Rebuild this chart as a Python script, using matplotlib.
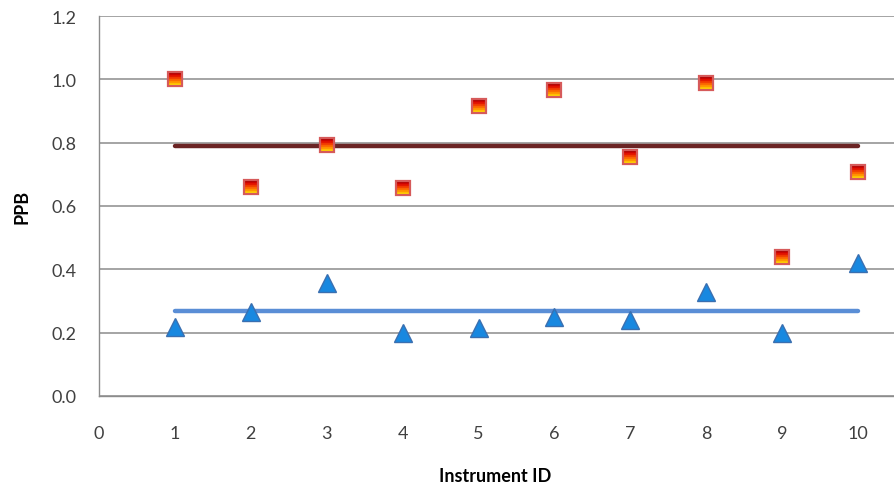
import matplotlib
matplotlib.use("Agg")
import matplotlib.pyplot as plt
from matplotlib.path import Path
import numpy as np

plt.rcParams['font.family'] = ['Lato', 'DejaVu Sans']

instrument_ids = [1, 2, 3, 4, 5, 6, 7, 8, 9, 10]
squares = [1.00, 0.66, 0.793, 0.657, 0.916, 0.966, 0.755, 0.988, 0.439, 0.707]
triangles = [0.218, 0.264, 0.357, 0.199, 0.215, 0.249, 0.240, 0.328, 0.199, 0.420]
square_mean = 0.789
triangle_mean = 0.268
yticks = [0.0, 0.2, 0.4, 0.6, 0.8, 1.0, 1.2]
xticks = list(range(0, 11))

fig = plt.figure(figsize=(8.94, 4.85), dpi=100)
ax = fig.add_axes([99/894, 1 - 397/485, (896-99)/894, (397-17)/485])

ax.set_xlim(0, 10.5)
ax.set_ylim(0, 1.2)
ax.set_yticks(yticks)
ax.set_yticklabels([f"{v:.1f}" for v in yticks])
ax.set_xticks(xticks)
ax.grid(axis='y', color='#8c8c8c', lw=1.1)
ax.set_axisbelow(True)
for s in ['top', 'right']:
    ax.spines[s].set_visible(False)
for s in ['left', 'bottom']:
    ax.spines[s].set_color('#8c8c8c')
    ax.spines[s].set_linewidth(1.0)
ax.tick_params(length=0, labelsize=13, colors='#404040')
ax.tick_params(axis='y', pad=16)
ax.tick_params(axis='x', pad=21)

ax.plot([instrument_ids[0], instrument_ids[-1]], [square_mean]*2, color='#6b2424',
        lw=3.2, solid_capstyle='round', zorder=2)
ax.plot([instrument_ids[0], instrument_ids[-1]], [triangle_mean]*2, color='#5a8ed6',
        lw=3.2, solid_capstyle='round', zorder=2)

# gradient-filled square markers (dark red top -> yellow bottom)
grad = ['#a80000', '#c80000', '#e01000', '#f03800', '#fa6400', '#ff9000', '#ffb800', '#ffd800']
n = len(grad)
edges = np.linspace(1, -1, n + 1)
for i, c in enumerate(grad):
    y1, y0 = edges[i], edges[i + 1]
    band = Path([(-1, y0), (1, y0), (1, y1), (-1, y1), (-1, y0)],
                [Path.MOVETO, Path.LINETO, Path.LINETO, Path.LINETO, Path.CLOSEPOLY])
    ax.plot(instrument_ids, squares, ls='none', marker=band, markersize=10.5,
            markerfacecolor=c, markeredgecolor=c, markeredgewidth=0.3, zorder=3)
ax.plot(instrument_ids, squares, ls='none', marker='s', markersize=10.5,
        markerfacecolor='none', markeredgecolor='#d65a5a', markeredgewidth=1.6, zorder=4)

ax.plot(instrument_ids, triangles, ls='none', marker='^', markersize=13,
        markerfacecolor='#1888e0', markeredgecolor='#3a6fb0', markeredgewidth=1.0,
        zorder=3)

fig.text(22/894, 1 - 207/485, 'PPB', rotation=90, ha='center', va='center',
         fontsize=13, fontweight='bold', color='#000000')
fig.text(495/894, 1 - 477/485, 'Instrument ID', ha='center', va='center',
         fontsize=13, fontweight='bold', color='#000000')

fig.savefig('out.png', dpi=100)
